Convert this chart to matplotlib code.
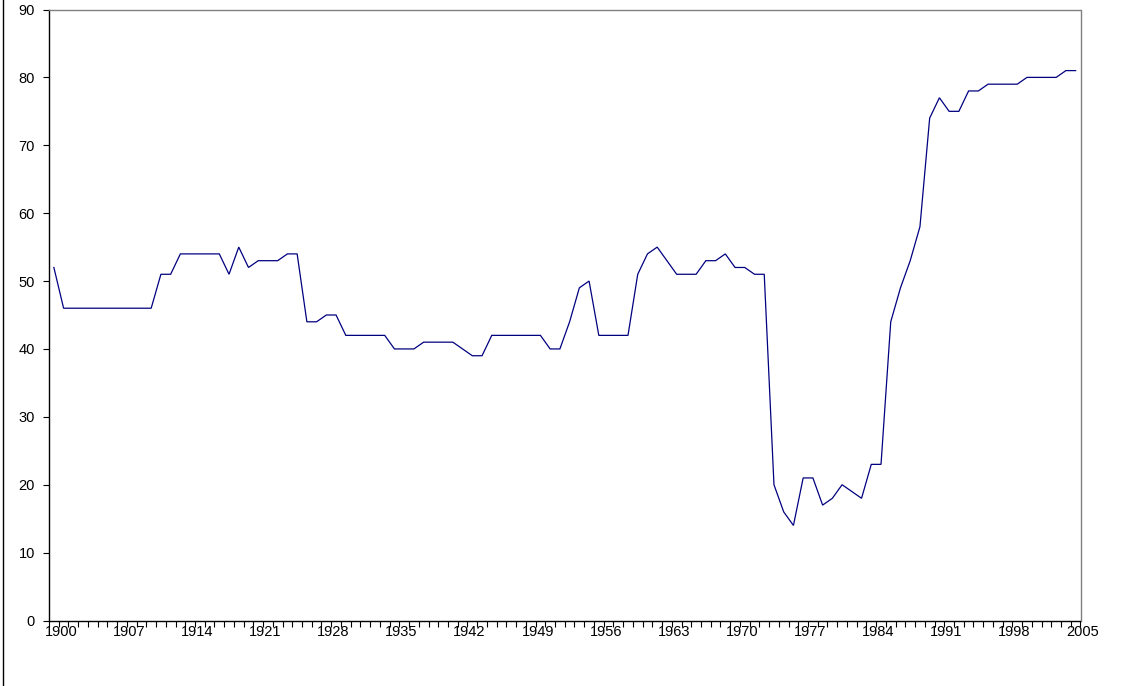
import numpy as np
import matplotlib
matplotlib.use("Agg")
import matplotlib.pyplot as plt
from matplotlib.lines import Line2D
from matplotlib.transforms import ScaledTranslation

plt.rcParams["font.family"] = ["Liberation Sans", "DejaVu Sans"]

# Annual series, 1900-2005
years = list(range(1900, 2006))
values = [
    52,
    46, 46, 46, 46, 46, 46, 46, 46, 46, 46,
    51, 51, 54, 54, 54, 54, 54, 51, 55, 52,
    53, 53, 53, 54, 54, 44, 44, 45, 45, 42,
    42, 42, 42, 42, 40, 40, 40, 41, 41, 41,
    41, 40, 39, 39, 42, 42, 42, 42, 42, 42,
    40, 40, 44, 49, 50, 42, 42, 42, 42, 51,
    54, 55, 53, 51, 51, 51, 53, 53, 54, 52,
    52, 51, 51, 20, 16, 14, 21, 21, 17, 18,
    20, 19, 18, 23, 23, 44, 49, 53, 58, 74,
    77, 75, 75, 78, 78, 79, 79, 79, 79, 80,
    80, 80, 80, 81, 81,
]
label_years = list(range(1900, 2006, 7))
y_ticks = list(range(0, 100, 10))

W, H, DPI = 1136, 686, 100
fig = plt.figure(figsize=(W / DPI, H / DPI), dpi=DPI)
fig.patch.set_facecolor("white")

left, right, top, bottom = 49, 1080.5, 9.5, 620.5
ax = fig.add_axes([left / W, 1 - bottom / H, (right - left) / W, (bottom - top) / H])

ax.plot(years, values, color="#000080", linewidth=0.9, solid_joinstyle="miter")

ax.set_xlim(years[0] - 0.5, years[-1] + 0.5)
ax.set_ylim(y_ticks[0], y_ticks[-1])

# spines: dark axes, grey frame on top/right
for side in ("left", "bottom"):
    ax.spines[side].set_color("black")
    ax.spines[side].set_linewidth(1.0)
for side in ("top", "right"):
    ax.spines[side].set_color("#808080")
    ax.spines[side].set_linewidth(1.0)

# y axis
ax.set_yticks(y_ticks)
ax.tick_params(axis="y", which="major", direction="out", length=4.3, width=0.8,
               color="black", pad=5.8, labelsize=10.5, labelcolor="black")

# x axis: a tick at every category boundary, labels every 7 years
ax.set_xticks(np.arange(years[0] - 0.5, years[-1] + 1.0, 1.0), minor=True)
ax.set_xticks(label_years)
ax.set_xticklabels([str(y) for y in label_years])
ax.tick_params(axis="x", which="minor", direction="out", length=4, width=0.8,
               color="black")
ax.tick_params(axis="x", which="major", length=0, pad=3.2, labelsize=10.5,
               labelcolor="black")
shift = ScaledTranslation(7 / DPI, 0, fig.dpi_scale_trans)
for lbl in ax.get_xticklabels():
    lbl.set_transform(lbl.get_transform() + shift)

# outer chart border on the left edge
fig.add_artist(Line2D([3 / W, 3 / W], [0, 1], color="black", linewidth=1.0,
                      transform=fig.transFigure))

fig.savefig("out.png", dpi=DPI, facecolor="white")
